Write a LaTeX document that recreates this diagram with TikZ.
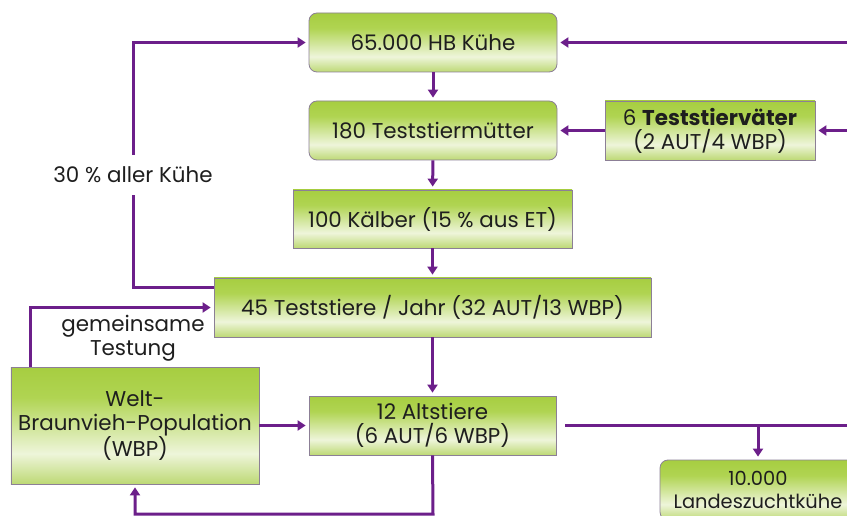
\documentclass[tikz,border=0pt]{standalone}
\usepackage{fontspec}
\setmainfont{Poppins}
\usetikzlibrary{arrows.meta}

\definecolor{lila}{HTML}{6C1F8A}
\definecolor{rahmen}{HTML}{8C7F96}
\definecolor{gruenoben}{HTML}{94C11F}
\definecolor{gruenmittel}{HTML}{B0D452}
\definecolor{gruenhell}{HTML}{EEF5DA}
\definecolor{gruenunten}{HTML}{72AC12}
\definecolor{schrift}{HTML}{1E1E1E}

\pgfdeclareverticalshading{gruenverlauf}{100bp}{color(0bp)=(gruenunten); color(14bp)=(gruenoben); color(38bp)=(gruenhell); color(62bp)=(gruenmittel); color(100bp)=(gruenoben)}

\begin{document}
\begin{tikzpicture}[x=1bp, y=-1bp,
    box/.style={draw=rahmen, line width=0.8bp, shade, shading=gruenverlauf,
      minimum height=59bp, inner sep=0pt, align=center, text=schrift,
      font=\fontsize{21.5}{24}\selectfont},
    rbox/.style={box, rounded corners=8bp},
    flow/.style={draw=lila, line width=3bp, -{Triangle[length=8bp,width=10bp]}, shorten >=3bp},
    linie/.style={draw=lila, line width=3bp},
    label/.style={text=schrift, align=center, font=\fontsize{21.5}{24.5}\selectfont}]
  \useasboundingbox (0,0) rectangle (847,516);
  \clip (0,0) rectangle (847,516);

  % Boxes
  \node[rbox, minimum width=248bp] (hb) at (433,42.5) {65.000 HB Kühe};
  \node[rbox, minimum width=248bp] (muetter) at (433,130.5) {180 Teststiermütter};
  \node[box, minimum width=210bp] (vaeter) at (710,130.5) {6 \textbf{Teststierväter}\\(2 AUT/4 WBP)};
  \node[box, minimum width=279bp, minimum height=58bp] (kaelber) at (432.5,219) {100 Kälber (15 \% aus ET)};
  \node[box, minimum width=437bp] (teststiere) at (432.5,307.5) {45 Teststiere / Jahr (32 AUT/13 WBP)};
  \node[box, minimum width=248bp, minimum height=117bp] (wbp) at (135,425.5) {Welt-\\Braunvieh-Population\\(WBP)};
  \node[box, minimum width=247bp] (alt) at (432.5,425.5) {12 Altstiere\\(6 AUT/6 WBP)};
  \node[rbox, minimum width=196bp, minimum height=60bp, font=\fontsize{19.5}{23}\selectfont] (lzk) at (758,490) {10.000\\Landeszuchtkühe};

  % Labels
  \node[label, inner ysep=12bp] (anteil) at (133,175) {30 \% aller Kühe};
  \node[label] (gemeinsam) at (133,338) {gemeinsame\\Testung};

  % Main line
  \draw[flow] (hb) -- (muetter);
  \draw[flow] (muetter) -- (kaelber);
  \draw[flow] (kaelber) -- (teststiere);
  \draw[flow] (teststiere) -- (alt);
  \draw[flow] (vaeter) -- (muetter);
  \draw[flow] (wbp) -- (alt);

  % Loops
  \draw[linie] ([yshift=19.5bp]teststiere.west) -| (anteil.south);
  \draw[flow] (anteil.north) |- (hb.west);
  \draw[flow] ([xshift=-104bp]wbp.north) |- (teststiere.west);
  \coordinate (unten) at (433,514);
  \draw[flow] (alt.south) -- (unten) -| (wbp.south);

  % From the right
  \coordinate (rechtsoben) at (860,42.5);
  \coordinate (rechtsmitte) at (860,130.5);
  \coordinate (rechtsunten) at (860,425.5);
  \draw[flow] (rechtsoben) -- (hb.east);
  \draw[flow] (rechtsmitte) -- (vaeter.east);
  \draw[linie, shorten <=9bp] (alt.east) -- (rechtsunten);
  \draw[flow] (lzk.north |- alt.east) -- (lzk.north);
\end{tikzpicture}
\end{document}
